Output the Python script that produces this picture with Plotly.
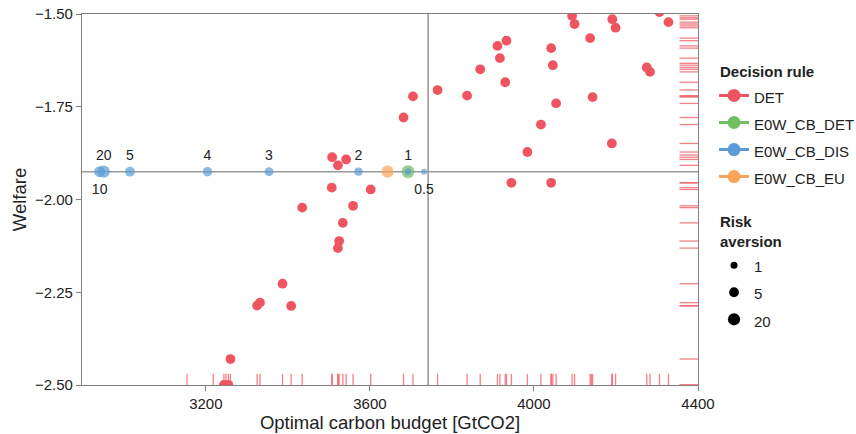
import math
import plotly.graph_objects as go

# ---------------- data ----------------
# Decision rule DET (each point: optimal carbon budget, welfare)
det_budget = [4093, 4099, 4191, 4199, 4306, 4328, 4137, 3933, 3911, 4042,
              3917, 4046, 3869, 4275, 4283, 3930, 3765, 3837, 4143, 4054,
              4017, 4190, 3984, 3705, 3682, 3508, 3542, 3522, 3945, 4042,
              3507, 3602, 3435, 3559, 3534, 3525, 3522, 3387, 3332, 3325,
              3408, 3260, 3244, 3255,
              3154, 3218, 3249, 4140, 4420, 4450, 4470, 4430]
det_welfare = [-1.505, -1.527, -1.514, -1.537, -1.495, -1.522, -1.565, -1.572, -1.586, -1.592,
               -1.619, -1.638, -1.649, -1.644, -1.656, -1.684, -1.705, -1.720, -1.724, -1.741,
               -1.798, -1.849, -1.872, -1.722, -1.779, -1.886, -1.892, -1.908, -1.955, -1.955,
               -1.968, -1.973, -2.022, -2.017, -2.063, -2.112, -2.131, -2.227, -2.278, -2.286,
               -2.287, -2.430, -2.500, -2.500,
               -2.62, -2.58, -2.55, -1.47, -1.510, -1.532, -1.633, -1.880]
det_risk = 5

# Decision rule E0W_CB_DIS (labelled by risk aversion)
dis_risk = [0.5, 1, 2, 3, 4, 5, 10, 20]
dis_labels = ["0.5", "1", "2", "3", "4", "5", "10", "20"]
dis_budget = [3732, 3693, 3572, 3354, 3204, 3015, 2941, 2951]
dis_welfare = [-1.925] * 8

# Decision rule E0W_CB_DET and E0W_CB_EU
cbdet_budget = [3693]
cbdet_welfare = [-1.925]
cbdet_risk = [20]
eu_budget = [3643]
eu_welfare = [-1.925]
eu_risk = [20]

# reference lines
ref_welfare = -1.925
ref_budget = 3742

rules = ["DET", "E0W_CB_DET", "E0W_CB_DIS", "E0W_CB_EU"]
legend_risk = [1, 5, 20]

x_ticks = [3200, 3600, 4000, 4400]
y_ticks = [-2.5, -2.25, -2.0, -1.75, -1.5]

# ---------------- style ----------------
colors = {"DET": "#EF5560", "E0W_CB_DET": "#72BF62", "E0W_CB_DIS": "#5A9BD6", "E0W_CB_EU": "#F9A557"}
rug_color = "rgba(240,85,96,0.75)"
axis_gray = "#808080"
FONT = "Liberation Sans, Arial, sans-serif"


def size_of(r):
    return 7 + 1.2 * math.log2(r)


fig = go.Figure()

# rugs (bottom & right)
bx, by = [], []
for v in det_budget:
    bx += [v, v, None]
    by += [0, 0.03, None]
fig.add_trace(go.Scatter(x=bx, y=by, xaxis="x", yaxis="y2", mode="lines",
                         line=dict(color=rug_color, width=1.3), hoverinfo="skip", showlegend=False))
rx, ry = [], []
for w in det_welfare:
    rx += [0.97, 1.0, None]
    ry += [w, w, None]
fig.add_trace(go.Scatter(x=rx, y=ry, xaxis="x2", yaxis="y", mode="lines",
                         line=dict(color=rug_color, width=1.3), hoverinfo="skip", showlegend=False))

# points
fig.add_trace(go.Scatter(x=det_budget, y=det_welfare, mode="markers",
                         marker=dict(color=colors["DET"], size=size_of(det_risk), line=dict(width=0)),
                         showlegend=False))
fig.add_trace(go.Scatter(x=cbdet_budget, y=cbdet_welfare, mode="markers",
                         marker=dict(color=colors["E0W_CB_DET"], size=[size_of(r) + 0.8 for r in cbdet_risk], line=dict(width=0)),
                         showlegend=False))
fig.add_trace(go.Scatter(x=eu_budget, y=eu_welfare, mode="markers",
                         marker=dict(color=colors["E0W_CB_EU"], size=[size_of(r) for r in eu_risk], line=dict(width=0)),
                         showlegend=False))
fig.add_trace(go.Scatter(x=dis_budget, y=dis_welfare, mode="markers",
                         marker=dict(color=colors["E0W_CB_DIS"], size=[size_of(r) for r in dis_risk], line=dict(width=0)),
                         showlegend=False))
# labels above / below points (transparent markers only set the text offset)
top_idx = [i for i, l in enumerate(dis_labels) if l not in ("0.5", "10")]
bot_idx = [i for i, l in enumerate(dis_labels) if l in ("0.5", "10")]
fig.add_trace(go.Scatter(x=[dis_budget[i] for i in top_idx], y=[dis_welfare[i] for i in top_idx],
                         mode="markers+text", text=[dis_labels[i] for i in top_idx], textposition="top center",
                         textfont=dict(size=14, color="#222222", family=FONT),
                         marker=dict(size=11, color="rgba(0,0,0,0)"), showlegend=False, hoverinfo="skip"))
fig.add_trace(go.Scatter(x=[dis_budget[i] for i in bot_idx], y=[dis_welfare[i] for i in bot_idx],
                         mode="markers+text", text=[dis_labels[i] for i in bot_idx], textposition="bottom center",
                         textfont=dict(size=14, color="#222222", family=FONT),
                         marker=dict(size=17, color="rgba(0,0,0,0)"), showlegend=False, hoverinfo="skip"))

# legend entries
for r in rules:
    fig.add_trace(go.Scatter(x=[None], y=[None], mode="lines+markers",
                             name='<span style="font-size:15px">%s</span>' % r,
                             line=dict(color=colors[r], width=3),
                             marker=dict(color=colors[r], size=13),
                             legend="legend"))
for r in legend_risk:
    fig.add_trace(go.Scatter(x=[None], y=[None], mode="markers",
                             name='<span style="font-size:15px">%s</span>' % r,
                             marker=dict(color="black", size=size_of(r)),
                             legend="legend2"))

fig.add_hline(y=ref_welfare, line=dict(color="#9a9a9a", width=1.6), layer="below")
fig.add_vline(x=ref_budget, line=dict(color="#9a9a9a", width=1.6), layer="below")

fig.update_layout(
    width=856, height=434,
    margin=dict(l=82, r=158, t=14, b=49, autoexpand=False),
    paper_bgcolor="white", plot_bgcolor="white",
    font=dict(family=FONT, size=15, color="#222222"),
    xaxis=dict(range=[2898, 4400], tickvals=x_ticks, ticktext=[str(v) for v in x_ticks],
               showgrid=False, zeroline=False, showline=True, mirror=True, automargin=False,
               linecolor=axis_gray, linewidth=1.3, ticks="outside", ticklen=5, tickcolor=axis_gray,
               tickfont=dict(size=15, color="#222222"),
               title=dict(text="Optimal carbon budget [GtCO2]", font=dict(size=18.5, color="#222222"), standoff=3)),
    yaxis=dict(range=[-2.5, -1.5], tickvals=y_ticks, tickformat=".2f",
               showgrid=False, zeroline=False, showline=True, mirror=True, automargin=False,
               linecolor=axis_gray, linewidth=1.3, ticks="outside", ticklen=5, tickcolor=axis_gray,
               tickfont=dict(size=15, color="#222222"),
               title=dict(text="Welfare", font=dict(size=18.5, color="#222222"), standoff=3)),
    xaxis2=dict(overlaying="x", range=[0, 1], visible=False),
    yaxis2=dict(overlaying="y", range=[0, 1], visible=False),
    legend=dict(title=dict(text="<b>Decision rule</b>", font=dict(size=15)),
                font=dict(size=18.5, family=FONT, color="#222222"),
                x=1.0325, xanchor="left", y=0.883, yanchor="top", indentation=-4,
                itemsizing="trace", bgcolor="rgba(0,0,0,0)"),
    legend2=dict(title=dict(text="<b>Risk</b><br><b>aversion</b>", font=dict(size=15)),
                 font=dict(size=18.5, family=FONT, color="#222222"),
                 x=1.0325, xanchor="left", y=0.478, yanchor="top", indentation=-4,
                 itemsizing="trace", bgcolor="rgba(0,0,0,0)"),
)

fig.write_html("out.html")
